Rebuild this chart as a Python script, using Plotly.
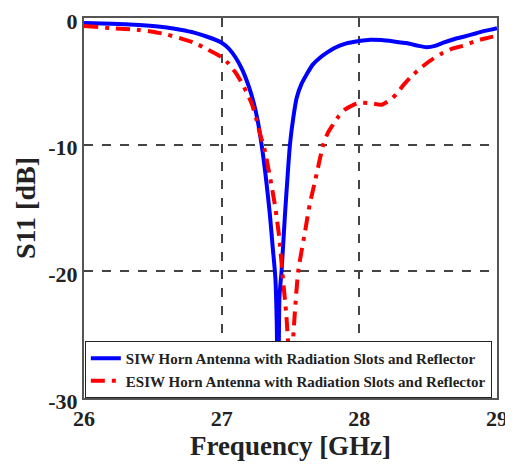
import plotly.graph_objects as go

siw_freq = [26.0, 26.2, 26.4, 26.5, 26.6, 26.7, 26.8, 26.9, 27.0, 27.05, 27.1, 27.15, 27.2, 27.23,
            27.26, 27.29, 27.32, 27.35, 27.37, 27.39, 27.40, 27.41, 27.42, 27.435, 27.46, 27.48,
            27.496, 27.52, 27.545, 27.58, 27.617, 27.66, 27.714, 27.77, 27.823, 27.9, 28.0,
            28.08, 28.16, 28.25, 28.35, 28.43, 28.49, 28.55, 28.61, 28.68, 28.75, 28.85, 28.92, 29.0]
siw_s11 = [-0.4, -0.45, -0.55, -0.63, -0.75, -0.93, -1.16, -1.5, -1.95, -2.4, -3.1, -4.1, -5.5, -6.6,
           -8.0, -10.0, -12.5, -15.5, -18.0, -20.5, -24.0, -32.0, -22.0, -20.0, -15.5, -12.3,
           -10.0, -7.9, -6.3, -5.2, -4.46, -3.7, -3.14, -2.7, -2.35, -2.02, -1.82,
           -1.72, -1.74, -1.85, -2.0, -2.2, -2.3, -2.2, -1.95, -1.7, -1.5, -1.2, -1.0, -0.8]

esiw_freq = [26.0, 26.2, 26.4, 26.5, 26.6, 26.7, 26.8, 26.9, 27.0, 27.05, 27.1, 27.15, 27.2, 27.22,
             27.25, 27.28, 27.31, 27.35, 27.39, 27.42, 27.44, 27.47, 27.49, 27.50, 27.51, 27.53,
             27.556, 27.605, 27.64, 27.678, 27.738, 27.77, 27.81, 27.85, 27.895, 27.95, 28.0,
             28.08, 28.16, 28.22, 28.27, 28.32, 28.37, 28.44, 28.51, 28.6, 28.68, 28.75, 28.85,
             28.92, 29.0]
esiw_s11 = [-0.63, -0.8, -0.95, -1.08, -1.3, -1.6, -1.95, -2.5, -3.1, -3.6, -4.3, -5.2, -6.3, -6.8,
            -7.9, -9.2, -10.3, -12.5, -15.0, -17.5, -20.0, -23.5, -27.0, -29.0, -27.0, -23.5,
            -20.0, -16.9, -14.7, -12.9, -10.0, -9.1, -8.4, -7.75, -7.23, -6.9, -6.7,
            -6.72, -6.85, -6.5, -6.0, -5.3, -4.7, -4.0, -3.4, -2.8, -2.4, -2.2, -1.8,
            -1.6, -1.4]

x_ticks = [26, 27, 28, 29]
y_ticks = [0, -10, -20, -30]

font_family = "Liberation Serif, Times New Roman, serif"

fig = go.Figure()
fig.add_trace(go.Scatter(x=siw_freq, y=siw_s11, mode="lines",
                         name="<b>SIW Horn Antenna with Radiation Slots and Reflector</b>",
                         line=dict(color="#0000ff", width=4, shape="spline", smoothing=0.6)))
fig.add_trace(go.Scatter(x=esiw_freq, y=esiw_s11, mode="lines",
                         name="<b>ESIW Horn Antenna with Radiation Slots and Reflector</b>",
                         line=dict(color="#ff0000", width=4, dash="14px,7px,4px,7px",
                                   shape="spline", smoothing=0.6)))

axis_common = dict(
    showline=True, mirror=True, linecolor="#555555", linewidth=2,
    showgrid=True, gridcolor="#444444", griddash="dash", gridwidth=1.5,
    zeroline=False, ticks="", automargin=False, ticklabeloverflow="allow",
    tickfont=dict(family=font_family, size=22, color="#222222"),
)

# the page body adds an 8px offset, so the figure is sized to fit the window
fig.update_layout(
    width=505, height=460,
    margin=dict(l=76, r=16, t=10, b=70),
    paper_bgcolor="white", plot_bgcolor="white",
    font=dict(family=font_family, color="#222222"),
    showlegend=True,
    legend=dict(x=0.002, y=0.0, xanchor="left", yanchor="bottom",
                bgcolor="white", bordercolor="#222222", borderwidth=1,
                font=dict(family=font_family, size=15, color="#222222"),
                itemwidth=30, tracegroupgap=0),
    xaxis=dict(range=[26, 29], tickvals=x_ticks, ticktext=[f"<b>{v}</b>" for v in x_ticks],
               title=dict(text="<b>Frequency [GHz]</b>", font=dict(family=font_family, size=27), standoff=6),
               **axis_common),
    yaxis=dict(range=[-30, 0], tickvals=y_ticks, ticktext=[f"<b>{v}</b>" for v in y_ticks],
               ticklabelshift=3,
               title=dict(text="<b>S11 [dB]</b>", font=dict(family=font_family, size=28), standoff=4),
               **axis_common),
)

fig.write_html("out.html")
